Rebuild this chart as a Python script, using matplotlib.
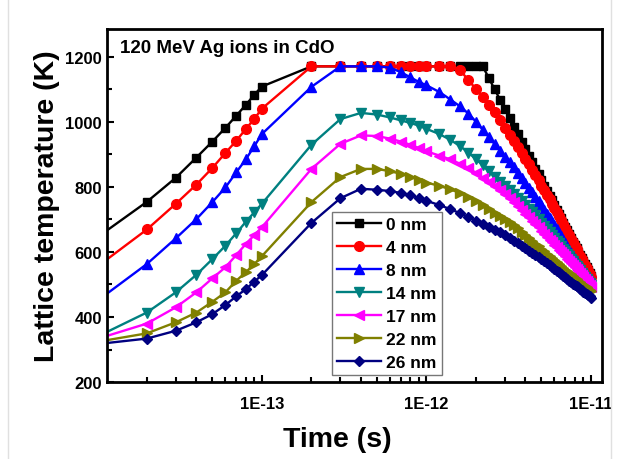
import matplotlib
matplotlib.use('Agg')
import matplotlib.pyplot as plt
from matplotlib.lines import Line2D
from matplotlib.ticker import LogLocator, MultipleLocator, NullFormatter, FixedLocator, FixedFormatter

plt.rcParams['font.family'] = ['Liberation Sans', 'DejaVu Sans']
plt.rcParams['font.weight'] = 'bold'

# time points (s)
time_s = [1e-14, 2e-14, 3e-14, 4e-14, 5e-14, 6e-14, 7e-14, 8e-14, 9e-14, 1e-13,
          2e-13, 3e-13, 4e-13, 5e-13, 6e-13, 7e-13, 8e-13, 9e-13, 1e-12,
          1.2e-12, 1.4e-12, 1.6e-12, 1.8e-12, 2.0e-12, 2.2e-12, 2.4e-12, 2.6e-12, 2.8e-12, 3.0e-12,
          3.2e-12, 3.4e-12, 3.6e-12, 3.8e-12, 4.0e-12, 4.2e-12, 4.4e-12, 4.6e-12, 4.8e-12, 5.0e-12,
          5.2e-12, 5.4e-12, 5.6e-12, 5.8e-12, 6.0e-12, 6.2e-12, 6.4e-12, 6.6e-12, 6.8e-12, 7.0e-12,
          7.2e-12, 7.4e-12, 7.6e-12, 7.8e-12, 8.0e-12, 8.2e-12, 8.4e-12, 8.6e-12, 8.8e-12, 9.0e-12,
          9.2e-12, 9.4e-12, 9.6e-12, 9.8e-12, 1.0e-11]

# lattice temperature (K) at each depth
t_0nm = [645, 754, 828, 890, 939, 981, 1019, 1052, 1083, 1108,
         1170, 1170, 1170, 1170, 1170, 1170, 1170, 1170, 1170,
         1170, 1170, 1170, 1170, 1170, 1170, 1133, 1099, 1068, 1038,
         1011, 985, 961, 937, 916, 895, 875, 856, 839, 821,
         804, 788, 773, 758, 743, 729, 716, 703, 690, 678,
         666, 654, 643, 632, 621, 611, 601, 590, 581, 571,
         562, 553, 544, 535, 526]
t_4nm = [555, 669, 748, 807, 858, 904, 942, 978, 1009, 1040,
         1170, 1170, 1170, 1170, 1170, 1170, 1170, 1170, 1170,
         1170, 1170, 1158, 1128, 1100, 1075, 1052, 1030, 1005, 981,
         959, 940, 921, 903, 886, 869, 852, 836, 820, 804,
         789, 775, 762, 748, 735, 722, 710, 698, 686, 674,
         662, 651, 640, 629, 619, 608, 598, 588, 578, 568,
         559, 550, 541, 532, 522]
t_8nm = [450, 563, 642, 701, 753, 798, 845, 885, 925, 962,
         1107, 1170, 1170, 1170, 1166, 1152, 1136, 1122, 1112,
         1091, 1068, 1047, 1025, 1000, 975, 952, 931, 911, 892,
         876, 860, 843, 826, 812, 797, 783, 769, 756, 743,
         730, 718, 705, 693, 682, 670, 659, 648, 637, 626,
         616, 606, 596, 587, 578, 569, 561, 553, 545, 538,
         531, 524, 518, 512, 506]
t_14nm = [340, 414, 476, 530, 578, 619, 658, 693, 722, 748,
          929, 1008, 1027, 1022, 1013, 1004, 996, 988, 978,
          962, 944, 925, 905, 885, 866, 848, 831, 816, 802,
          790, 778, 766, 755, 744, 733, 722, 712, 701, 690,
          680, 670, 661, 652, 643, 635, 626, 618, 610, 602,
          594, 586, 578, 571, 564, 557, 550, 543, 536, 530,
          523, 517, 511, 505, 499]
t_17nm = [333, 380, 430, 476, 519, 553, 591, 625, 652, 676,
          855, 932, 958, 956, 948, 939, 929, 919, 909,
          896, 884, 871, 858, 843, 828, 814, 801, 789, 777,
          765, 753, 742, 730, 718, 707, 696, 686, 676, 665,
          656, 647, 638, 630, 622, 614, 607, 600, 593, 586,
          579, 573, 566, 560, 554, 548, 541, 535, 529, 523,
          517, 511, 505, 499, 493]
t_22nm = [324, 350, 384, 414, 447, 476, 512, 538, 563, 587,
          753, 830, 855, 855, 848, 840, 831, 821, 813,
          803, 792, 781, 768, 755, 743, 731, 720, 710, 700,
          691, 682, 672, 661, 651, 642, 633, 625, 617, 609,
          602, 595, 588, 581, 575, 569, 563, 557, 552, 546,
          541, 536, 531, 526, 521, 517, 512, 508, 503, 499,
          495, 491, 487, 483, 479]
t_26nm = [317, 334, 358, 384, 409, 437, 464, 486, 509, 529,
          689, 765, 794, 791, 787, 781, 774, 766, 757,
          744, 731, 719, 707, 696, 686, 677, 668, 660, 651,
          643, 635, 627, 619, 611, 604, 597, 590, 583, 577,
          571, 565, 559, 553, 548, 542, 537, 532, 527, 522,
          517, 512, 508, 503, 499, 495, 491, 486, 482, 478,
          474, 471, 467, 464, 460]

labels = ['0 nm', '4 nm', '8 nm', '14 nm', '17 nm', '22 nm', '26 nm']
series = [t_0nm, t_4nm, t_8nm, t_14nm, t_17nm, t_22nm, t_26nm]
colors = ['#000000', '#FF0000', '#0000FF', '#008080', '#FF00FF', '#808000', '#000080']
markers = ['s', 'o', '^', 'v', '<', '>', 'D']
msizes = [6, 7, 7, 7, 7, 7, 5.5]

fig = plt.figure(figsize=(6.18, 4.6), dpi=100)
ax = fig.add_axes([0.173, 0.167, 0.801, 0.768])

for vals, lab, c, m, ms in zip(series, labels, colors, markers, msizes):
    ax.plot(time_s, vals, color=c, marker=m, markersize=ms, linewidth=1.7, label=lab)

ax.set_xscale('log')
ax.set_xlim(1.143e-14, 1.166e-11)
ax.set_ylim(200, 1285)

ax.xaxis.set_major_locator(FixedLocator([1e-13, 1e-12, 1e-11]))
ax.xaxis.set_major_formatter(FixedFormatter(['1E-13', '1E-12', '1E-11']))
ax.xaxis.set_minor_locator(LogLocator(base=10, subs=range(2, 10)))
ax.xaxis.set_minor_formatter(NullFormatter())
ax.yaxis.set_major_locator(MultipleLocator(200))
ax.yaxis.set_minor_locator(MultipleLocator(100))

ax.tick_params(which='both', direction='in', top=False, right=False, width=1.5, labelsize=12)
ax.tick_params(which='major', length=5)
ax.tick_params(which='minor', length=3.5)
ax.tick_params(axis='x', which='major', pad=10)
for lbl in ax.get_xticklabels() + ax.get_yticklabels():
    lbl.set_fontweight('bold')
for sp in ax.spines.values():
    sp.set_linewidth(2)

ax.set_xlabel('Time (s)', fontsize=20.5, fontweight='bold', labelpad=6)
ax.xaxis.set_label_coords(0.465, -0.125)
ax.set_ylabel('Lattice temperature (K)', fontsize=20.5, fontweight='bold')
ax.text(0.027, 0.972, '120 MeV Ag ions in CdO', transform=ax.transAxes,
        fontsize=13.5, fontweight='bold', va='top', ha='left')

leg = ax.legend(loc='lower left', bbox_to_anchor=(0.455, 0.02), fontsize=12.5,
                frameon=True, fancybox=False, edgecolor='#777777', framealpha=1,
                handlelength=2.5, handletextpad=0.3, labelspacing=0.45, borderpad=0.3,
                borderaxespad=0)
leg.get_frame().set_linewidth(1)
for txt in leg.get_texts():
    txt.set_fontweight('bold')

# faint frame lines of the original picture
fig.add_artist(Line2D([0.013, 0.013], [0.0, 1.0], color='#e0e0e0', linewidth=1))
fig.add_artist(Line2D([0.989, 0.989], [0.0, 1.0], color='#e0e0e0', linewidth=1))

fig.savefig('out.png', dpi=100)
